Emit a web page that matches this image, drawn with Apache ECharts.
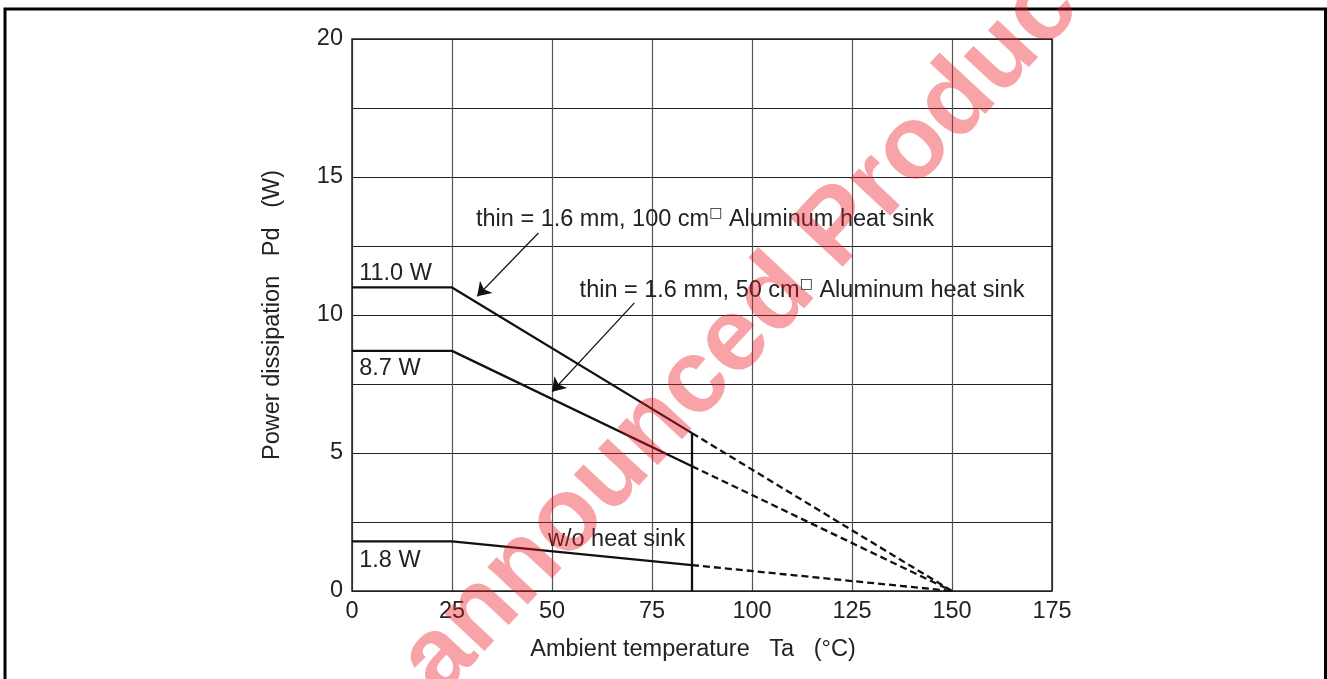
<!DOCTYPE html>
<html><head><meta charset="utf-8">
<script src="https://cdn.jsdelivr.net/npm/echarts@6/dist/echarts.min.js"></script>
<style>html,body{margin:0;padding:0;background:#fff}#c{width:1327px;height:679px}</style>
</head><body><div id="c"></div>
<script>
// ---- data ----
const xTicks = [0, 25, 50, 75, 100, 125, 150, 175];
const yTicks = [0, 5, 10, 15, 20];
const seriesNames = ['100 cm heat sink', '50 cm heat sink', 'w/o heat sink'];
const pdPlateau = [11.0, 8.7, 1.8];   // W, flat from 0 to 25 °C
const pdAt85 = [5.72, 4.52, 0.94];    // W at Ta = 85 °C
const tStart = 0, tKnee = 25, tLimit = 85, tZero = 150;
const plateauLabels = ['11.0 W', '8.7 W', '1.8 W'];
const curveLabels = [
  'thin = 1.6 mm, 100 cm{sq|□} Aluminum heat sink',
  'thin = 1.6 mm, 50 cm{sq|□} Aluminum heat sink',
  'w/o heat sink'
];

// ---- annotation placement (data coordinates) ----
const plateauLabelPos = [[1.8, 11.5], [1.8, 8.05], [1.8, 1.12]];
const curveLabelPos = [[31.0, 13.45], [56.9, 10.9], [49.0, 1.86]];
const arrowPos = [
  [[46.6, 12.97], [31.3, 10.68]],
  [[70.6, 10.44], [50.0, 7.22]]
];

const FONT = 'Liberation Sans, Arial, sans-serif';
const TXT = '#222';
const FS = 23.5;

const chart = echarts.init(document.getElementById('c'), null, {renderer: 'canvas'});

const series = [];
for (let i = 0; i < pdPlateau.length; i++) {
  series.push({
    name: seriesNames[i], type: 'line', symbol: 'none', silent: true,
    lineStyle: {color: '#111', width: 2.3},
    data: [[tStart, pdPlateau[i]], [tKnee, pdPlateau[i]], [tLimit, pdAt85[i]]], z: 5
  });
  series.push({
    name: seriesNames[i] + ' (derated)', type: 'line', symbol: 'none', silent: true,
    lineStyle: {color: '#111', width: 2.3, type: [7, 4]},
    data: [[tLimit, pdAt85[i]], [tZero, 0]], z: 5
  });
}
series.push({
  name: 'limit', type: 'line', symbol: 'none', silent: true,
  lineStyle: {color: '#111', width: 2.3},
  data: [[tLimit, 0], [tLimit, Math.max.apply(null, pdAt85)]], z: 5
});
series.push({
  name: 'arrows', type: 'lines', coordinateSystem: 'cartesian2d', silent: true,
  symbol: ['none', 'arrow'], symbolSize: [0, 13],
  lineStyle: {color: '#111', width: 1.2, opacity: 1},
  data: arrowPos.map(a => ({coords: a})), z: 6
});

chart.setOption({
  animation: false,
  backgroundColor: '#fff',
  grid: {left: 352, right: 275, top: 39, bottom: 88, show: true, borderColor: '#222', borderWidth: 1.5, z: 3},
  xAxis: {
    type: 'value', min: xTicks[0], max: xTicks[xTicks.length - 1], interval: 25,
    name: 'Ambient temperature   Ta   (°C)', nameLocation: 'middle', nameGap: 47,
    nameTextStyle: {fontFamily: FONT, fontSize: FS, color: TXT, padding: [0, 18, 0, 0]},
    axisLine: {show: false}, axisTick: {show: false},
    axisLabel: {fontFamily: FONT, fontSize: FS, color: TXT, margin: 9},
    splitLine: {show: true, lineStyle: {color: '#555', width: 1.2}}
  },
  yAxis: {
    type: 'value', min: 0, max: 20, interval: 2.5,
    name: 'Power dissipation   Pd   (W)', nameLocation: 'middle', nameGap: 67, nameRotate: 90,
    nameTextStyle: {fontFamily: FONT, fontSize: FS, color: TXT},
    axisLine: {show: false}, axisTick: {show: false},
    axisLabel: {fontFamily: FONT, fontSize: FS, color: TXT, margin: 9,
      formatter: v => (yTicks.indexOf(v) >= 0 ? String(v) : '')},
    splitLine: {show: true, lineStyle: {color: '#222', width: 1.2}}
  },
  series: series
});

function px(p) { return chart.convertToPixel({gridIndex: 0}, p); }
const graphics = [];
graphics.push({
  type: 'rect', shape: {x: 5, y: 9, width: 1320.5, height: 700}, silent: true,
  style: {fill: 'none', stroke: '#000', lineWidth: 3}, z: 1
});
for (let i = 0; i < plateauLabels.length; i++) {
  const p = px(plateauLabelPos[i]);
  graphics.push({type: 'text', x: p[0], y: p[1], silent: true, z: 10,
    style: {text: plateauLabels[i], fontFamily: FONT, fontSize: FS, fill: TXT, align: 'left', verticalAlign: 'middle'}});
}
for (let i = 0; i < curveLabels.length; i++) {
  const p = px(curveLabelPos[i]);
  graphics.push({type: 'text', x: p[0], y: p[1], silent: true, z: 10,
    style: {text: curveLabels[i], fontFamily: FONT, fontSize: FS, fill: TXT, align: 'left', verticalAlign: 'middle',
      lineHeight: 26,
      rich: {sq: {fontFamily: 'DejaVu Sans', fontSize: 14, fill: TXT, verticalAlign: 'top', lineHeight: 26}}}});
}
// watermark
graphics.push({
  type: 'text', x: 752, y: 322, rotation: 47 * Math.PI / 180, silent: true, z: 50,
  style: {text: 'announced Product', fontFamily: 'Liberation Sans', fontWeight: 'bold', fontSize: 104,
    fill: 'rgba(235,25,35,0.40)', align: 'center', verticalAlign: 'middle'}
});
chart.setOption({graphic: graphics});
</script>
</body></html>
